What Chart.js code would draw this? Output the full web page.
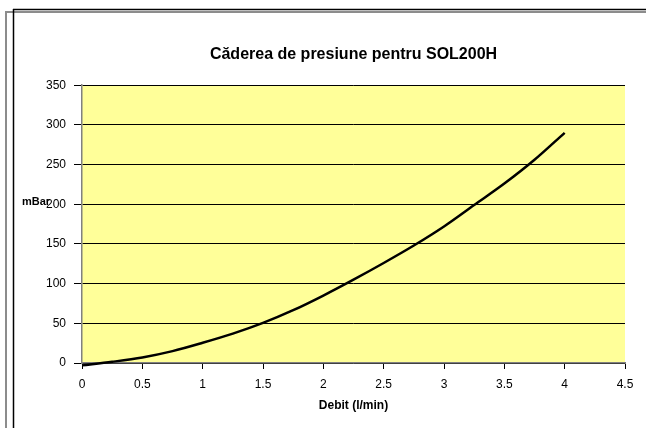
<!DOCTYPE html>
<html>
<head>
<meta charset="utf-8">
<title>Căderea de presiune pentru SOL200H</title>
<script src="https://cdn.jsdelivr.net/npm/chart.js@4/dist/chart.umd.min.js"></script>
<style>
    body { margin: 0; background: #ffffff; }
    #chart { display: block; }
</style>
</head>
<body>
<canvas id="chart" width="646" height="428"></canvas>
<script>
// values
const flowValues = [0, 0.25, 0.5, 0.75, 1, 1.25, 1.5, 1.75, 2, 2.25, 2.5, 2.75, 3, 3.25, 3.5, 3.75, 4];
const pressureDrop = [-3, 1.5, 7, 15, 25.5, 37, 50.5, 66.5, 85, 105, 126, 148, 172, 199, 226, 256, 290];
const xTicks = [0, 0.5, 1, 1.5, 2, 2.5, 3, 3.5, 4, 4.5];
const yTicks = [0, 50, 100, 150, 200, 250, 300, 350];

const titleText = 'Căderea de presiune pentru SOL200H';
const xTitle = 'Debit (l/min)';
const yTitle = 'mBar';

const fontFamily = '"Liberation Sans", Arial, sans-serif';
const points = flowValues.map((x, i) => ({ x: x, y: pressureDrop[i] }));

// yellow plot area + the two frames round the picture
const backgroundPlugin = {
    id: 'excelBackground',
    beforeDraw(chart) {
        const ctx = chart.ctx;
        const a = chart.chartArea;
        ctx.save();
        ctx.fillStyle = '#FFFF99';
        ctx.fillRect(a.left, a.top, a.right - a.left, a.bottom - a.top);

        ctx.strokeStyle = '#8c8c8c';
        ctx.lineWidth = 2;
        ctx.beginPath();
        ctx.moveTo(5, 12);
        ctx.lineTo(646, 12);
        ctx.moveTo(6, 11);
        ctx.lineTo(6, 428);
        ctx.stroke();

        ctx.strokeStyle = '#000000';
        ctx.lineWidth = 1.5;
        ctx.beginPath();
        ctx.moveTo(13, 9.5);
        ctx.lineTo(646, 9.5);
        ctx.moveTo(13.5, 9);
        ctx.lineTo(13.5, 428);
        ctx.stroke();
        ctx.restore();
    },
    afterDraw(chart) {
        // horizontal y axis title, like Excel does it
        const ctx = chart.ctx;
        const y = chart.scales.y.getPixelForValue(200);
        ctx.save();
        ctx.font = 'bold 11px ' + fontFamily;
        ctx.fillStyle = '#000000';
        ctx.textAlign = 'left';
        ctx.textBaseline = 'middle';
        ctx.fillText(yTitle, 22, y - 2);
        ctx.restore();
    }
};

new Chart(document.getElementById('chart'), {
    type: 'scatter',
    data: {
        datasets: [{
            label: yTitle,
            data: points,
            showLine: true,
            borderColor: '#000000',
            borderWidth: 2.5,
            pointRadius: 0,
            cubicInterpolationMode: 'monotone',
            fill: false,
            clip: 6
        }]
    },
    options: {
        responsive: false,
        animation: false,
        events: [],
        layout: { padding: { left: 0, right: 21, top: 0, bottom: 10 } },
        plugins: {
            legend: { display: false },
            tooltip: { enabled: false },
            title: {
                display: true,
                fullSize: false,
                text: titleText,
                color: '#000000',
                font: { family: fontFamily, size: 16, weight: 'bold' },
                padding: { top: 45, bottom: 21 }
            }
        },
        scales: {
            x: {
                type: 'linear',
                min: 0,
                max: 4.5,
                afterBuildTicks(scale) {
                    scale.ticks = xTicks.map(v => ({ value: v }));
                },
                afterFit(scale) { scale.height = 55; },
                ticks: {
                    color: '#000000',
                    font: { family: fontFamily, size: 12 },
                    padding: 8,
                    maxRotation: 0,
                    callback: v => String(v)
                },
                grid: {
                    drawOnChartArea: false,
                    drawTicks: true,
                    tickLength: 6,
                    color: '#000000'
                },
                border: { color: '#808080', width: 1.5 },
                title: {
                    display: true,
                    text: xTitle,
                    color: '#000000',
                    font: { family: fontFamily, size: 12, weight: 'bold' },
                    padding: { top: 2, bottom: 5 }
                }
            },
            y: {
                type: 'linear',
                min: 0,
                max: 350,
                afterBuildTicks(scale) {
                    scale.ticks = yTicks.map(v => ({ value: v }));
                },
                afterFit(scale) { scale.width = 82; },
                ticks: {
                    color: '#000000',
                    font: { family: fontFamily, size: 12 },
                    padding: 8
                },
                grid: {
                    color: '#000000',
                    lineWidth: 1,
                    drawTicks: true,
                    tickLength: 8
                },
                border: { color: '#808080', width: 1.5 }
            }
        }
    },
    plugins: [backgroundPlugin]
});
</script>
</body>
</html>
